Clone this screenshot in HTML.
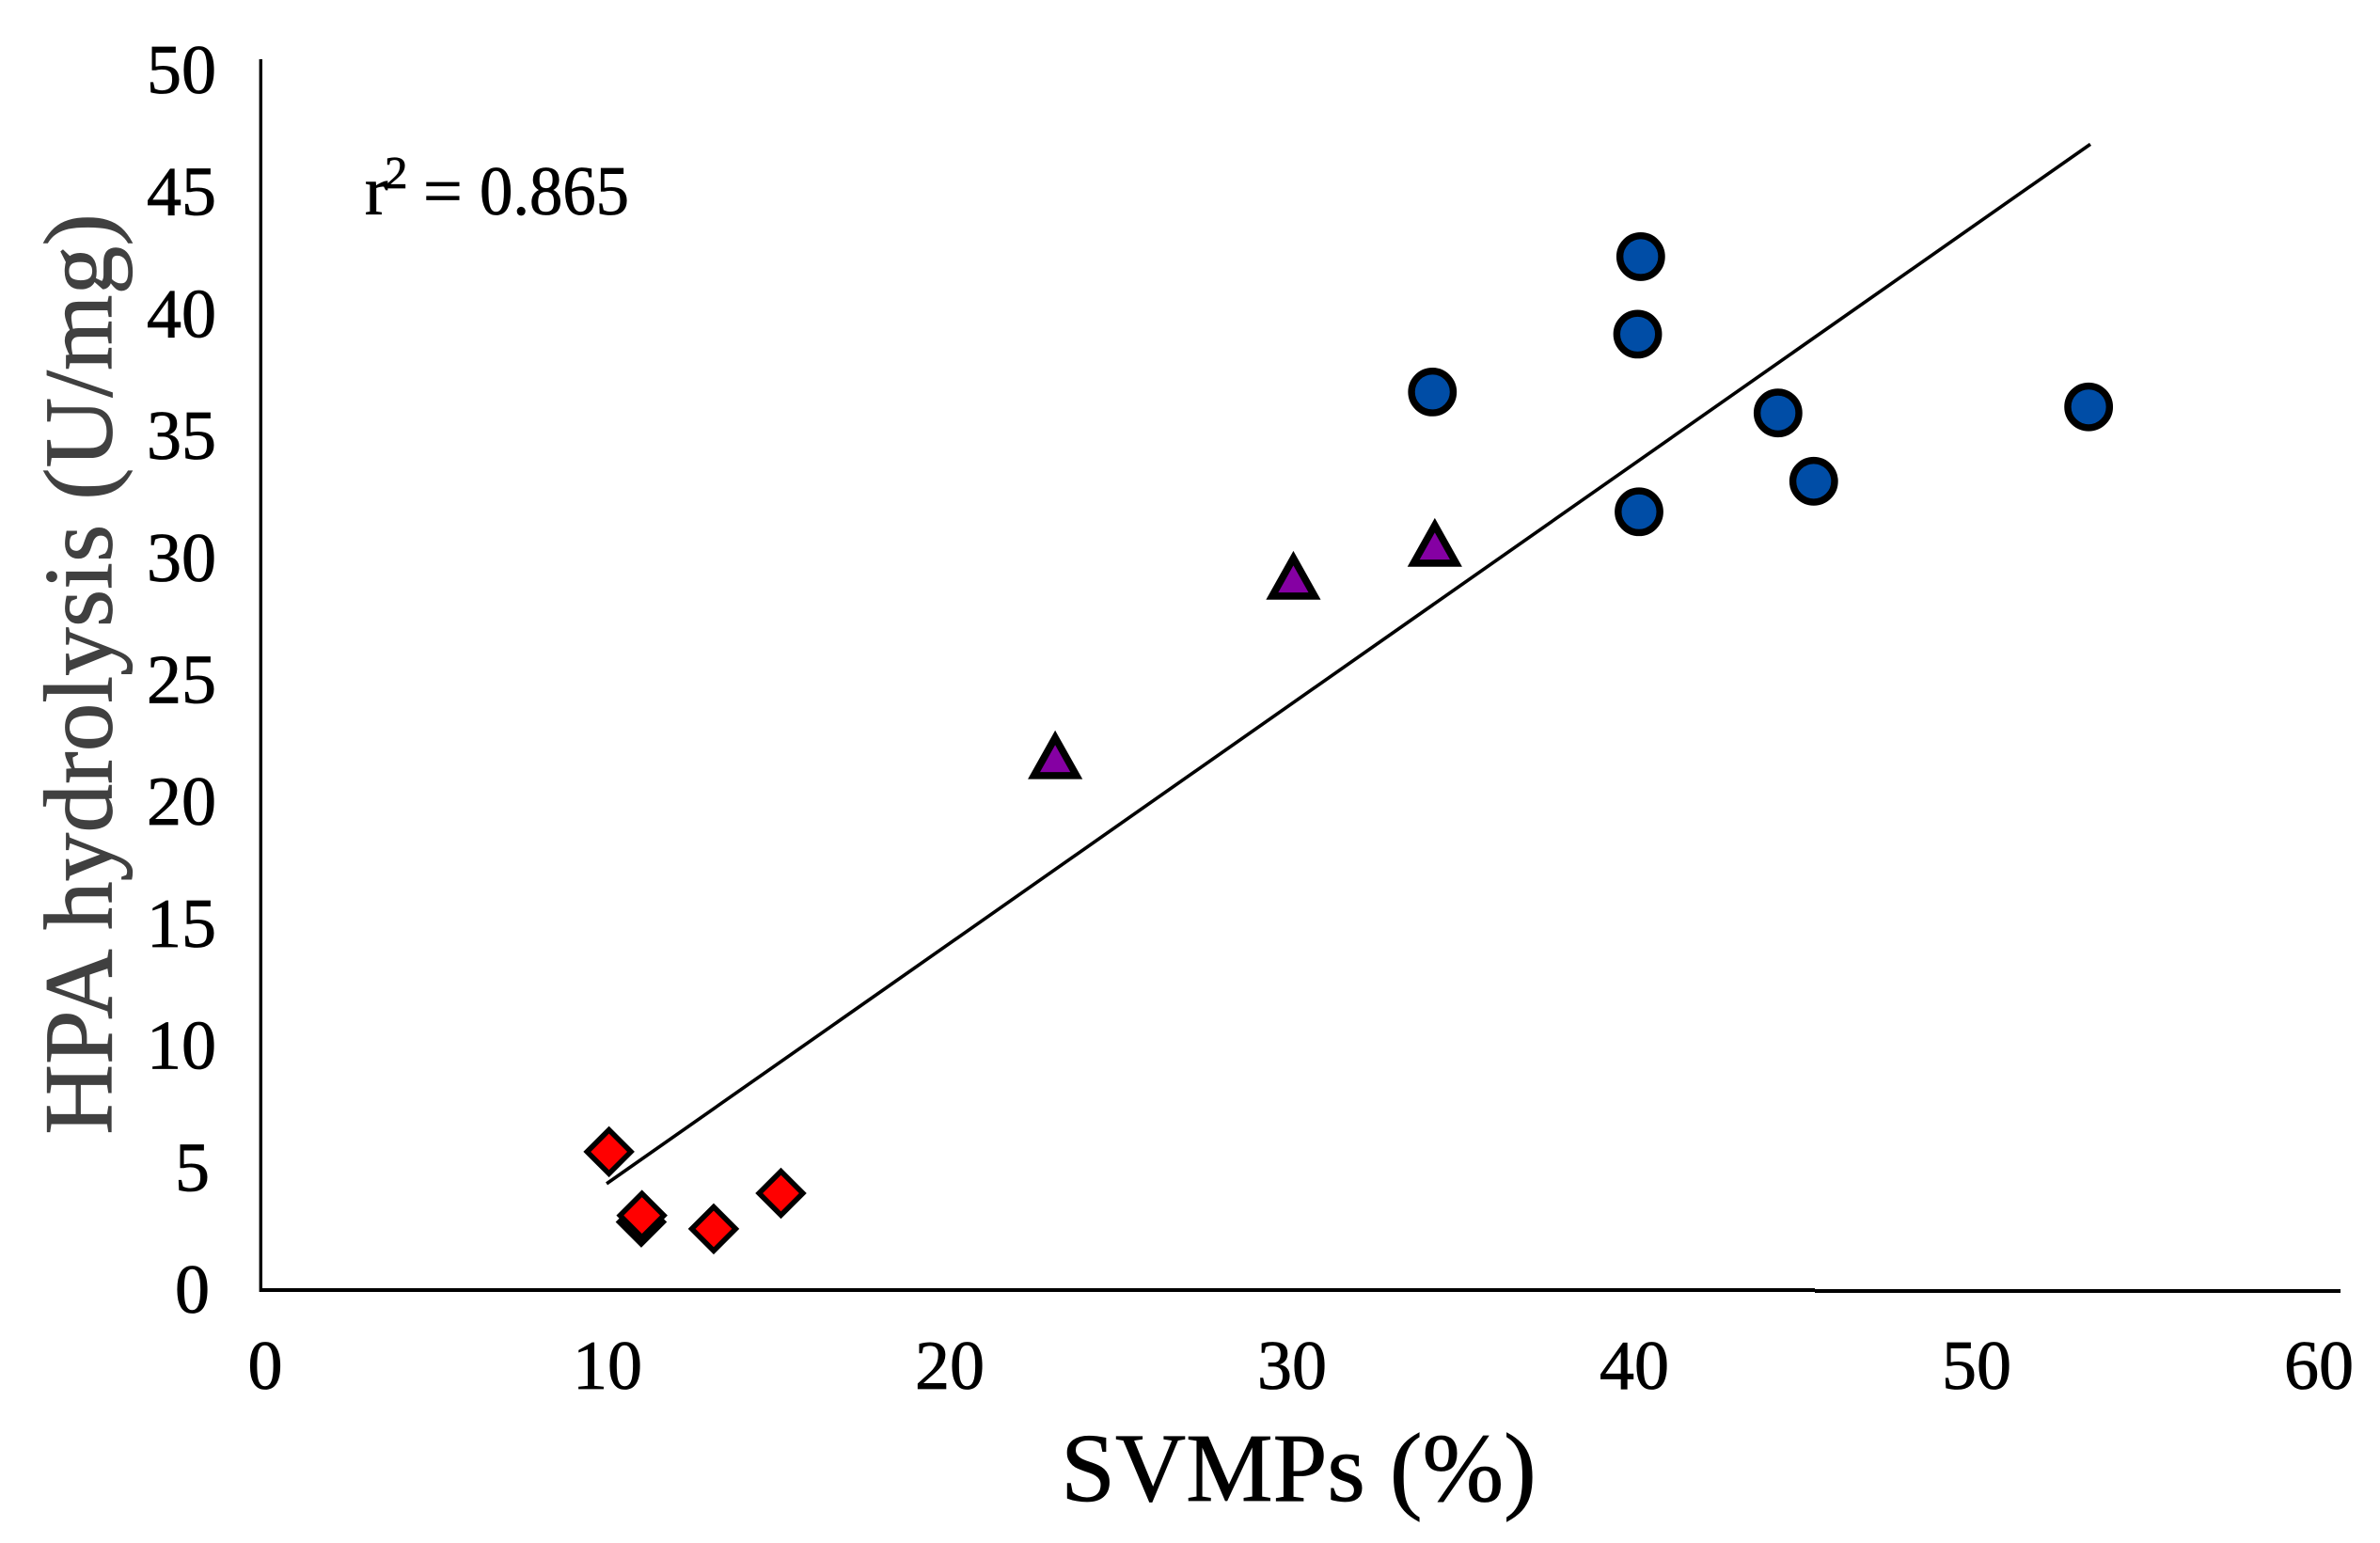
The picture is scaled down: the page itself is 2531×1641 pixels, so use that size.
<!DOCTYPE html>
<html lang="en">
<head>
<meta charset="utf-8">
<title>HPA hydrolysis vs SVMPs</title>
<style>
  html, body { margin: 0; padding: 0; background: #fff; }
  svg { display: block; }
  text { font-family: "Liberation Serif", serif; stroke-width: 0.8px; paint-order: stroke; }
</style>
</head>
<body>
<svg id="chart" xmlns="http://www.w3.org/2000/svg" width="2531" height="1641" viewBox="0 0 2531 1641">
  <rect x="0" y="0" width="2531" height="1641" fill="#ffffff"/>
  <rect x="275.6" y="63" width="3.4" height="1311" fill="#000"/>
  <rect x="276" y="1370" width="1654" height="4" fill="#000"/>
  <rect x="1930" y="1371" width="559" height="4" fill="#000"/>
  <g id="ticks-y"></g>
  <g id="ticks-x"></g>
  <g id="trend"></g>
  <g id="marks"></g>
  <text font-size="74" fill="#000" stroke="#000" y="228"><tspan x="388">r</tspan><tspan x="409" y="200" font-size="49">2</tspan><tspan x="450" y="228">=</tspan><tspan x="510" y="228" textLength="159" lengthAdjust="spacingAndGlyphs">0.865</tspan></text>
  <text font-size="103.5" fill="#404040" stroke="#404040" text-anchor="middle" transform="translate(118.6 717) rotate(-90)">HPA hydrolysis (U/mg)</text>
  <text font-size="104" fill="#000" stroke="#000" text-anchor="middle" x="1381" y="1596">SVMPs (%)</text>
</svg>
<script>
const yTickLabels = [0, 5, 10, 15, 20, 25, 30, 35, 40, 45, 50];
const xTickLabels = [0, 10, 20, 30, 40, 50, 60];

const venomCircleX = [40.05, 39.96, 33.98, 44.05, 53.10, 45.09, 40.00];
const venomCircleY = [42.37, 39.19, 36.82, 35.96, 36.21, 33.16, 31.91];

const venomTriangleX = [22.99, 29.93, 34.05];
const venomTriangleY = [21.94, 29.30, 30.65];

const venomDiamondX = [9.99, 10.93, 10.95, 13.04, 15.00];
const venomDiamondY = [5.67, 2.79, 3.06, 2.51, 3.97];

const trendX = [9.92, 53.15];
const trendY = [4.36, 46.98];

const SVGNS = 'http://www.w3.org/2000/svg';
function xScale(v) { return 283 + 36.5 * v; }
function yScale(v) { return 1372 - 25.94 * v; }
function xLabelPos(v) { return 282 + 36.4 * v; }
function yLabelBase(v) { return 1396 - 25.94 * v; }

const yTicksGroup = document.getElementById('ticks-y');
const xTicksGroup = document.getElementById('ticks-x');
const trendGroup = document.getElementById('trend');
const marksGroup = document.getElementById('marks');

yTickLabels.forEach(function (v) {
  const t = document.createElementNS(SVGNS, 'text');
  
  
  t.setAttribute('x', String(v).length > 1 ? 156 : 186);
  t.setAttribute('y', yLabelBase(v));
  t.setAttribute('font-size', 74);
  t.setAttribute('fill', '#000');
  t.setAttribute('stroke', '#000');
  t.textContent = v;
  yTicksGroup.appendChild(t);
});

xTickLabels.forEach(function (v) {
  const t = document.createElementNS(SVGNS, 'text');
  
  
  t.setAttribute('x', xLabelPos(v));
  t.setAttribute('y', 1477);
  t.setAttribute('font-size', 74);
  t.setAttribute('fill', '#000');
  t.setAttribute('stroke', '#000');
  t.setAttribute('text-anchor', 'middle');
  t.textContent = v;
  xTicksGroup.appendChild(t);
});

const trendLine = document.createElementNS(SVGNS, 'line');


trendLine.setAttribute('x1', xScale(trendX[0]));
trendLine.setAttribute('y1', yScale(trendY[0]));
trendLine.setAttribute('x2', xScale(trendX[1]));
trendLine.setAttribute('y2', yScale(trendY[1]));
trendLine.setAttribute('stroke', '#000');
trendLine.setAttribute('stroke-width', 3.6);
trendGroup.appendChild(trendLine);

venomDiamondX.forEach(function (xv, i) {
  const cx = xScale(xv);
  const cy = yScale(venomDiamondY[i]);
  const r = 23.3;
  const p = document.createElementNS(SVGNS, 'polygon');
  
  
  p.setAttribute('points', [cx, cy - r, cx + r, cy, cx, cy + r, cx - r, cy].join(' '));
  p.setAttribute('fill', '#ff0000');
  p.setAttribute('stroke', '#000');
  p.setAttribute('stroke-width', 5.6);
  marksGroup.appendChild(p);
});

venomTriangleX.forEach(function (xv, i) {
  const cx = xScale(xv);
  const cy = yScale(venomTriangleY[i]);
  const p = document.createElementNS(SVGNS, 'polygon');
  
  
  p.setAttribute('points', [cx, cy - 18.3, cx + 22.6, cy + 22, cx - 22.6, cy + 22].join(' '));
  p.setAttribute('fill', '#8500a3');
  p.setAttribute('stroke', '#000');
  p.setAttribute('stroke-width', 7.6);
  p.setAttribute('stroke-miterlimit', 6);
  marksGroup.appendChild(p);
});

venomCircleX.forEach(function (xv, i) {
  const c = document.createElementNS(SVGNS, 'circle');
  
  
  c.setAttribute('cx', xScale(xv));
  c.setAttribute('cy', yScale(venomCircleY[i]));
  c.setAttribute('r', 22.2);
  c.setAttribute('fill', '#004da6');
  c.setAttribute('stroke', '#000');
  c.setAttribute('stroke-width', 7.4);
  marksGroup.appendChild(c);
});
</script>
</body>
</html>
